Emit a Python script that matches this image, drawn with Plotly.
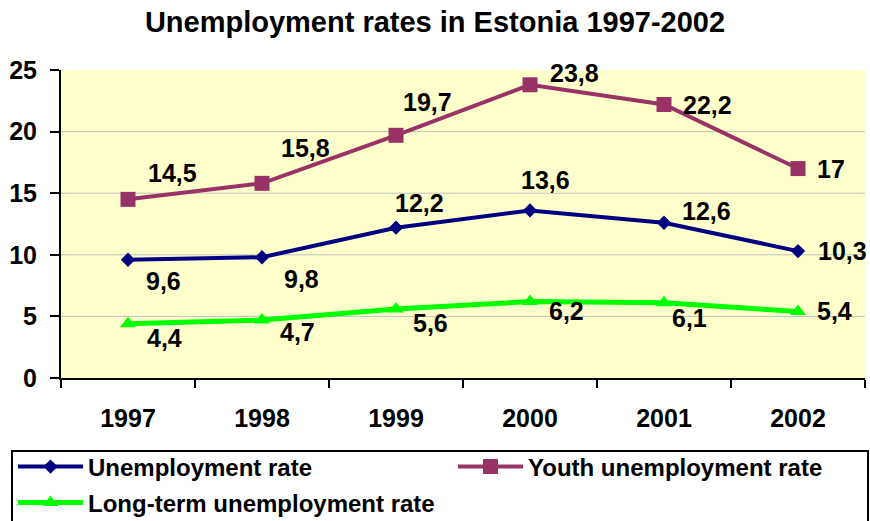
import plotly.graph_objects as go

years = ["1997", "1998", "1999", "2000", "2001", "2002"]
unemployment = [9.6, 9.8, 12.2, 13.6, 12.6, 10.3]
youth = [14.5, 15.8, 19.7, 23.8, 22.2, 17.0]
longterm = [4.4, 4.7, 5.6, 6.2, 6.1, 5.4]

unemp_labels = ["9,6", "9,8", "12,2", "13,6", "12,6", "10,3"]
youth_labels = ["14,5", "15,8", "19,7", "23,8", "22,2", "17"]
long_labels = ["4,4", "4,7", "5,6", "6,2", "6,1", "5,4"]

# label pixel offsets (style only): (xshift, yshift, xanchor)
unemp_off = [(35, -21, "center"), (39, -22, "center"), (23, 25, "center"),
             (15, 30, "center"), (42, 12, "center"), (18, 0, "left")]
youth_off = [(44, 26, "center"), (43, 35, "center"), (31, 33, "center"),
             (44, 12, "center"), (17, 0, "left"), (17, 0, "left")]
long_off = [(36, -14, "center"), (35, -12, "center"), (34, -14, "center"),
            (36, -9, "center"), (25, -15, "center"), (17, 0, "left")]

FONT = "Liberation Sans, Arial, sans-serif"
NAVY = "#000080"
PURPLE = "#993366"
GREEN = "#00FF00"

fig = go.Figure()
fig.add_trace(go.Scatter(
    x=years, y=unemployment, name="Unemployment rate", mode="lines+markers",
    line=dict(color=NAVY, width=4), marker=dict(symbol="diamond", size=11, color=NAVY),
    legend="legend", cliponaxis=False))
fig.add_trace(go.Scatter(
    x=years, y=youth, name="Youth unemployment rate", mode="lines+markers",
    line=dict(color=PURPLE, width=4), marker=dict(symbol="square", size=15, color=PURPLE),
    legend="legend3", cliponaxis=False))
fig.add_trace(go.Scatter(
    x=years, y=longterm, name="Long-term unemployment rate", mode="lines+markers",
    line=dict(color=GREEN, width=5), marker=dict(symbol="triangle-up", size=14, color=GREEN),
    legend="legend2", cliponaxis=False))

annotations = []
for vals, labs, offs in [(unemployment, unemp_labels, unemp_off),
                         (youth, youth_labels, youth_off),
                         (longterm, long_labels, long_off)]:
    for i, (v, t, (dx, dy, xa)) in enumerate(zip(vals, labs, offs)):
        annotations.append(dict(
            x=i, y=v, xref="x", yref="y", text="<b>" + t + "</b>", showarrow=False,
            xanchor=xa, yanchor="middle", xshift=dx, yshift=dy,
            font=dict(family=FONT, size=25, color="black")))

grid_values = [5, 10, 15, 20]
shapes = []
for g in grid_values:
    shapes.append(dict(type="line", xref="paper", yref="y", x0=0, x1=1, y0=g, y1=g,
                       line=dict(color="#C0C0C0", width=1), layer="below"))
# legend frame
shapes.append(dict(type="rect", xref="paper", yref="paper",
                   x0=(12 - 61) / 804, x1=(868 - 61) / 804,
                   y0=(378 - 530) / 308, y1=(378 - 451) / 308,
                   line=dict(color="black", width=2), fillcolor="rgba(0,0,0,0)"))

tickfont = dict(family=FONT, size=25, color="black", weight="bold")
legfont = dict(family=FONT, size=24, color="black", weight="bold")

def leg(xpx, ypx):
    return dict(orientation="h", xref="container", yref="container",
                x=xpx / 870, xanchor="left", y=1 - ypx / 521, yanchor="middle",
                itemwidth=65, font=legfont, bgcolor="rgba(0,0,0,0)", borderwidth=0)

fig.update_layout(
    width=870, height=521,
    margin=dict(l=61, r=5, t=70, b=143, autoexpand=False),
    paper_bgcolor="white", plot_bgcolor="#FFFFCC",
    title=dict(text="Unemployment rates in Estonia 1997-2002",
               font=dict(family=FONT, size=29, color="black", weight="bold"),
               x=0.5, xref="container", xanchor="center",
               y=1 - 22 / 521, yref="container", yanchor="middle"),
    xaxis=dict(type="category", range=[-0.5, 5.5], tickson="boundaries",
               ticks="outside", ticklen=8, tickwidth=2, tickcolor="black",
               showline=True, linewidth=2, linecolor="black", showgrid=False,
               tickfont=tickfont, ticklabelstandoff=17, fixedrange=True),
    yaxis=dict(range=[0, 25], dtick=5, ticks="outside", ticklen=9, tickwidth=2,
               tickcolor="black", showline=True, linewidth=2, linecolor="black",
               showgrid=False, zeroline=False, tickfont=tickfont,
               ticklabelstandoff=8, fixedrange=True),
    legend=leg(13, 467),
    legend3=leg(453, 467),
    legend2=leg(13, 503),
    annotations=annotations,
    shapes=shapes,
    showlegend=True,
)

fig.write_html("out.html")
